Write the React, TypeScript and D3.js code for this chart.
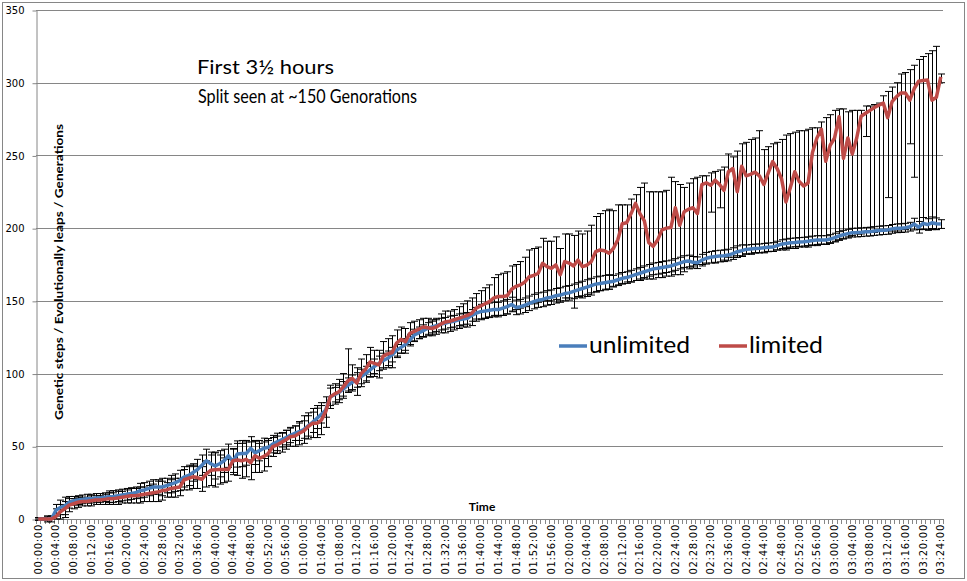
import { useRef, useEffect } from 'react';
import * as d3 from 'd3';

// one category per minute, 00:00:00 .. 03:24:00, labels every 4 minutes
const tickLabels = [
    '00:00:00', '00:04:00', '00:08:00', '00:12:00', '00:16:00', '00:20:00', '00:24:00', '00:28:00', '00:32:00', '00:36:00',
    '00:40:00', '00:44:00', '00:48:00', '00:52:00', '00:56:00', '01:00:00', '01:04:00', '01:08:00', '01:12:00', '01:16:00',
    '01:20:00', '01:24:00', '01:28:00', '01:32:00', '01:36:00', '01:40:00', '01:44:00', '01:48:00', '01:52:00', '01:56:00',
    '02:00:00', '02:04:00', '02:08:00', '02:12:00', '02:16:00', '02:20:00', '02:24:00', '02:28:00', '02:32:00', '02:36:00',
    '02:40:00', '02:44:00', '02:48:00', '02:52:00', '02:56:00', '03:00:00', '03:04:00', '03:08:00', '03:12:00', '03:16:00',
    '03:20:00', '03:24:00',
];
const labelEvery = 4;

const yTicks = [0, 50, 100, 150, 200, 250, 300, 350];

const unlimited = [
    0, 0, 0, 0, 6, 8, 9, 11.5, 12.5, 13,
    13.5, 14, 14, 14.5, 14.5, 15, 15.3, 15.5, 16, 16.5,
    17, 17.5, 18, 19.5, 20, 21, 22, 22, 22, 23,
    24, 25, 26.5, 29, 30, 32, 34, 37, 40, 38,
    36.5, 38, 40, 43.5, 39.5, 44.7, 45, 45, 48.6, 45.5,
    47, 48.6, 49.3, 51.5, 53, 54.5, 56, 57.5, 59, 60,
    61.5, 64, 66.5, 69.2, 72, 75, 84, 85.5, 87, 89.5,
    92, 94, 95.6, 98, 100, 102.5, 105, 107, 109, 110.5,
    113, 116, 118, 120, 123, 126.5, 128, 129.5, 131, 132,
    133, 134, 134.6, 135.5, 136, 137, 137.5, 138, 140, 141.5,
    142.6, 143, 143.5, 144, 144, 145, 146, 147.5, 145.5, 146,
    147, 148.3, 149.5, 150.5, 151, 152, 152.5, 153.5, 154, 155,
    155.5, 156.5, 157.5, 158.5, 159.5, 160.5, 161.5, 162, 162.5, 163,
    163.5, 164.5, 165.5, 166, 167, 168, 169, 170, 171, 172,
    172.4, 173, 173.5, 174, 175, 176, 177, 177.4, 176.5, 176.2,
    178, 179.3, 180, 180.5, 180.8, 181, 181.5, 182.5, 183.8, 184.5,
    185.4, 185.7, 186, 186.1, 186.5, 186.8, 187, 188, 189, 189.5,
    190, 190.2, 190.5, 190.7, 191, 191.5, 191.8, 191.8, 191.8, 192.5,
    193.5, 194.6, 195.5, 196.2, 196.9, 197, 197.2, 197.5, 197.6, 198,
    198.3, 198.6, 198.8, 199.5, 199.9, 200, 200.3, 201, 202.8, 200.6,
    203.3, 202.5, 203.7, 203, 202.8,
];

// +/- error for unlimited
const unlimitedErr = [
    1, 1, 2, 2, 4, 5, 6, 4, 3, 3,
    3, 3, 3, 3, 3, 3, 4, 4, 4, 4,
    4, 4, 4, 5, 5, 5, 5, 5, 6, 5,
    6, 6, 7, 7, 7, 6, 7, 7, 8, 8,
    9, 9, 8, 8, 9, 9, 9, 8, 8, 8,
    7, 7, 6, 6, 6, 5, 5, 5, 5, 6,
    6, 7, 7, 7, 6, 5, 6, 5, 5, 5,
    5, 5, 5, 5, 5, 5, 5, 5, 5, 5,
    5, 4, 4, 4, 4, 4, 4, 4, 4, 4,
    4, 4, 4, 4, 4, 4, 4, 4, 4, 4,
    5, 5, 5, 5, 5, 5, 5, 5, 5, 5,
    5, 5, 5, 5, 5, 5, 5, 5, 5, 5,
    5, 5, 5, 5, 5, 5, 5, 5, 5, 5,
    4, 4, 4, 4, 4, 4, 4, 4, 4, 4,
    4, 4, 4, 4, 4, 4, 4, 4, 4, 4,
    4, 4, 4, 4, 4, 4, 4, 4, 4, 4,
    3, 3, 3, 3, 3, 3, 3, 3, 3, 3,
    3, 3, 3, 3, 3, 3, 3, 3, 3, 3,
    3, 3, 3, 3, 3, 3, 3, 3, 3, 3,
    3, 3, 3, 3, 3, 3, 3, 3, 4, 4,
    4, 4, 4, 4, 3,
];

const limited = [
    0, 0, 0, 0, 1.6, 5, 7, 9.5, 10.5, 11.5,
    12, 12, 12.5, 13, 13, 13.5, 14, 14, 14.5, 15,
    15.5, 16, 16, 16.5, 17, 17.5, 18, 18.5, 19.5, 20,
    21, 21.5, 22, 27, 28, 29, 28.5, 27.3, 31, 33.5,
    33.8, 34, 34, 34, 40, 40.5, 40, 41, 38.7, 43.5,
    41.7, 43, 45, 49.7, 51, 52.7, 54.5, 56.6, 57, 59,
    60.5, 63.5, 65.8, 65.8, 68, 74, 84, 86, 87.5, 91,
    95, 96.7, 93.5, 100, 103, 108, 107, 106, 112, 113.5,
    114.5, 121, 123.5, 122, 127.7, 129, 130.5, 132, 131.5, 131,
    132, 134, 135.5, 136, 137, 138, 139, 140, 141.5, 145,
    146.5, 148, 149.5, 152, 153, 153, 153.5, 158, 160, 161,
    163, 166.6, 167.5, 169, 175.8, 173.5, 172.4, 174.7, 168, 177,
    176, 174, 178, 173.5, 174.5, 177, 183.8, 185, 184.5, 182.7,
    186, 192, 203, 203.7, 210, 217, 210, 205, 190, 187.5,
    191.9, 198.8, 200, 200.5, 214, 202, 211.3, 213, 214, 210,
    230, 231.2, 229.5, 233, 230, 226, 238.8, 241, 225, 242.5,
    236, 237, 238.5, 236, 230, 238, 245.7, 241, 234, 218,
    228, 238.8, 232, 229, 231, 252, 262, 268, 246, 257,
    262, 276.6, 248, 262, 251, 262, 277, 279, 281, 283,
    284.5, 286, 276, 287, 290.5, 293, 293, 288, 296, 301,
    301.5, 301.8, 288, 290, 304,
];

// top and bottom of the limited error bars
const limitedHigh = [
    1, 1, 2, 2, 7, 10, 12, 14, 14, 15,
    15, 15, 16, 16, 16, 17, 18, 18, 19, 19,
    20, 21, 21, 22, 22, 23, 24, 26, 26, 25,
    27, 28, 28, 34, 36, 37, 36, 36, 40, 44,
    46, 44, 42, 41, 48, 52, 52, 54, 53, 54,
    52, 53, 54, 56, 57, 59, 61, 63, 64, 67,
    71, 73, 76, 78, 80, 84, 92, 93, 96, 100,
    117, 106, 104, 110, 113, 118, 116, 116, 122, 124,
    126, 130, 132, 131, 135, 136, 137, 138, 138, 137,
    138, 141, 143, 143, 144, 146, 148, 150, 152, 155,
    157, 159, 161, 166, 168, 169, 170, 174, 175, 177,
    180, 185, 186, 187, 193, 191, 191, 194, 186, 196,
    196, 195, 198, 196, 198, 202, 208, 210, 212, 213,
    212, 216, 216, 216, 220, 223, 228, 231, 225, 225,
    225, 225, 226, 235, 232, 230, 228, 231, 234, 235,
    236, 236, 238, 239, 240, 242, 251, 249, 253, 258,
    259, 261, 262, 267, 254, 256, 258, 259, 261, 264,
    265, 266, 267, 267, 268, 269, 269, 273, 276, 278,
    281, 282, 282, 280, 281, 281, 281, 284, 284, 285,
    286, 291, 294, 297, 300, 306, 307, 309, 312, 316,
    318, 320, 322, 325, 306,
];

const limitedLow = [
    0, 0, 0, 0, 0, 0, 1, 5, 7, 8,
    9, 9, 9, 10, 10, 10, 10, 10, 10, 11,
    11, 11, 11, 11, 12, 12, 12, 12, 13, 15,
    15, 15, 16, 20, 20, 21, 21, 19, 22, 23,
    22, 24, 25, 26, 32, 30, 28, 29, 27, 32,
    32, 33, 36, 43, 45, 46, 48, 50, 50, 51,
    52, 55, 56, 56, 58, 63, 76, 79, 80, 83,
    88, 88, 85, 91, 94, 98, 98, 97, 103, 104,
    104, 111, 114, 114, 120, 122, 124, 125, 126, 126,
    127, 128, 128, 129, 130, 131, 132, 132, 133, 136,
    137, 138, 139, 140, 140, 140, 141, 143, 144, 145,
    146, 148, 148, 149, 150, 150, 150, 151, 150, 152,
    152, 145, 153, 152, 153, 154, 156, 157, 158, 158,
    160, 161, 162, 163, 163, 164, 164, 165, 165, 165,
    166, 166, 167, 167, 168, 168, 170, 172, 174, 175,
    175, 176, 211, 176, 214, 178, 180, 180, 181, 181,
    182, 182, 183, 183, 183, 184, 184, 185, 185, 185,
    186, 186, 187, 187, 187, 188, 188, 189, 189, 190,
    191, 192, 193, 194, 195, 196, 196, 263, 197, 197,
    198, 198, 221, 198, 198, 199, 199, 258, 235, 199,
    199, 199, 199, 199, 300,
];

const BLUE = '#4a7ebb';
const RED = '#be4b48';
const GRID = '#868686';

export default function App() {
    const chartRef = useRef<SVGSVGElement>(null);

    useEffect(() => {
        if (!chartRef.current) return;
        const svg = d3.select(chartRef.current);
        svg.selectAll('*').remove();

        const width = 967;
        const height = 581;
        const plot = { left: 36, right: 943, top: 10, bottom: 519 };

        svg.append('rect').attr('width', width).attr('height', height).attr('fill', '#fff');
        svg.append('rect')
            .attr('x', 2.5).attr('y', 2.5)
            .attr('width', 962).attr('height', 576)
            .attr('fill', 'none').attr('stroke', GRID);

        const x = d3.scaleBand<number>()
            .domain(d3.range(unlimited.length))
            .range([plot.left, plot.right]);
        const bw = x.bandwidth();
        const cx = (i: number) => (x(i) ?? 0) + bw / 2;

        const y = d3.scaleLinear().domain([0, 350]).range([plot.bottom, plot.top]);

        // horizontal gridlines
        svg.append('g')
            .selectAll('line')
            .data(yTicks.filter(v => v > 0))
            .join('line')
            .attr('x1', plot.left).attr('x2', plot.right)
            .attr('y1', d => Math.round(y(d)) + 0.5).attr('y2', d => Math.round(y(d)) + 0.5)
            .attr('stroke', GRID);

        // y axis
        const yAxis = svg.append('g')
            .attr('transform', `translate(${plot.left + 0.5},0.5)`)
            .call(d3.axisLeft(y).tickValues(yTicks).tickSize(4).tickSizeOuter(0).tickPadding(8));
        yAxis.select('.domain').attr('stroke', GRID);
        yAxis.selectAll('.tick line').attr('stroke', GRID);
        yAxis.selectAll('.tick text')
            .attr('font-family', 'DejaVu Sans').attr('font-size', 10).attr('fill', '#000');

        // x axis line + minute ticks
        const xa = svg.append('g');
        xa.append('line')
            .attr('x1', plot.left).attr('x2', plot.right)
            .attr('y1', Math.round(y(0)) + 0.5).attr('y2', Math.round(y(0)) + 0.5)
            .attr('stroke', GRID);
        const boundaries = [...x.domain().map(i => x(i) ?? 0), plot.right];
        xa.selectAll('line.tk')
            .data(boundaries)
            .join('line')
            .attr('class', 'tk')
            .attr('x1', d => Math.round(d) + 0.5).attr('x2', d => Math.round(d) + 0.5)
            .attr('y1', y(0)).attr('y2', y(0) + 5)
            .attr('stroke', GRID);

        xa.selectAll('text')
            .data(tickLabels)
            .join('text')
            .attr('transform', (_, k) => `translate(${cx(k * labelEvery) + 3.5},${y(0) + 5}) rotate(-90)`)
            .attr('text-anchor', 'end')
            .attr('font-family', 'DejaVu Sans')
            .attr('font-size', 10)
            .attr('letter-spacing', 0.7)
            .attr('fill', '#000')
            .text(d => d);

        // error bars (black, capped)
        const cap = 3.5;
        const drawBars = (lo: (i: number) => number, hi: (i: number) => number, n: number) => {
            const g = svg.append('g').attr('stroke', '#000').attr('stroke-width', 1);
            d3.range(n).forEach(i => {
                const px = Math.round(cx(i)) + 0.5;
                const y1 = y(hi(i));
                const y2 = y(lo(i));
                g.append('line').attr('x1', px).attr('x2', px).attr('y1', y1).attr('y2', y2);
                g.append('line').attr('x1', px - cap).attr('x2', px + cap).attr('y1', y1).attr('y2', y1);
                g.append('line').attr('x1', px - cap).attr('x2', px + cap).attr('y1', y2).attr('y2', y2);
            });
        };
        drawBars(i => unlimited[i] - unlimitedErr[i], i => unlimited[i] + unlimitedErr[i], unlimited.length);
        drawBars(i => limitedLow[i], i => limitedHigh[i], limited.length);

        // series lines
        const line = d3.line<number>()
            .x((_, i) => cx(i))
            .y(d => y(d));

        svg.append('path')
            .datum(unlimited)
            .attr('fill', 'none')
            .attr('stroke', BLUE)
            .attr('stroke-width', 3.5)
            .attr('stroke-linejoin', 'round')
            .attr('d', line);

        svg.append('path')
            .datum(limited)
            .attr('fill', 'none')
            .attr('stroke', RED)
            .attr('stroke-width', 3.5)
            .attr('stroke-linejoin', 'round')
            .attr('d', line);

        // legend
        const legend = [
            { name: 'unlimited', color: BLUE, x: 559, w: 101 },
            { name: 'limited', color: RED, x: 719, w: 74 },
        ];
        const lg = svg.append('g');
        legend.forEach(l => {
            lg.append('line')
                .attr('x1', l.x).attr('x2', l.x + 28)
                .attr('y1', 346).attr('y2', 346)
                .attr('stroke', l.color).attr('stroke-width', 3.5);
            lg.append('text')
                .attr('x', l.x + 30).attr('y', 353)
                .attr('font-family', 'Lato').attr('font-size', 24)
                .attr('textLength', l.w).attr('lengthAdjust', 'spacingAndGlyphs')
                .attr('fill', '#000')
                .text(l.name);
        });

        // titles
        svg.append('text')
            .attr('x', 197).attr('y', 74)
            .attr('font-family', 'Lato').attr('font-size', 18.5)
            .attr('textLength', 137).attr('lengthAdjust', 'spacingAndGlyphs')
            .text('First 3½ hours');
        svg.append('text')
            .attr('x', 198).attr('y', 103)
            .attr('font-family', 'Lato').attr('font-size', 18.5)
            .attr('textLength', 219).attr('lengthAdjust', 'spacingAndGlyphs')
            .text('Split seen at ~150 Genorations');

        svg.append('text')
            .attr('x', 482).attr('y', 511)
            .attr('text-anchor', 'middle')
            .attr('font-family', 'Lato').attr('font-weight', 'bold').attr('font-size', 12)
            .text('Time');

        svg.append('text')
            .attr('transform', `translate(63,${272}) rotate(-90)`)
            .attr('text-anchor', 'middle')
            .attr('font-family', 'Lato').attr('font-weight', 'bold').attr('font-size', 12)
            .attr('textLength', 296).attr('lengthAdjust', 'spacingAndGlyphs')
            .text('Genetic steps / Evolutionally leaps / Generations');
    }, []);

    return (
        <svg
            ref={chartRef}
            width={967}
            height={581}
            style={{ position: 'absolute', left: 0, top: 0, display: 'block' }}
        />
    );
}
